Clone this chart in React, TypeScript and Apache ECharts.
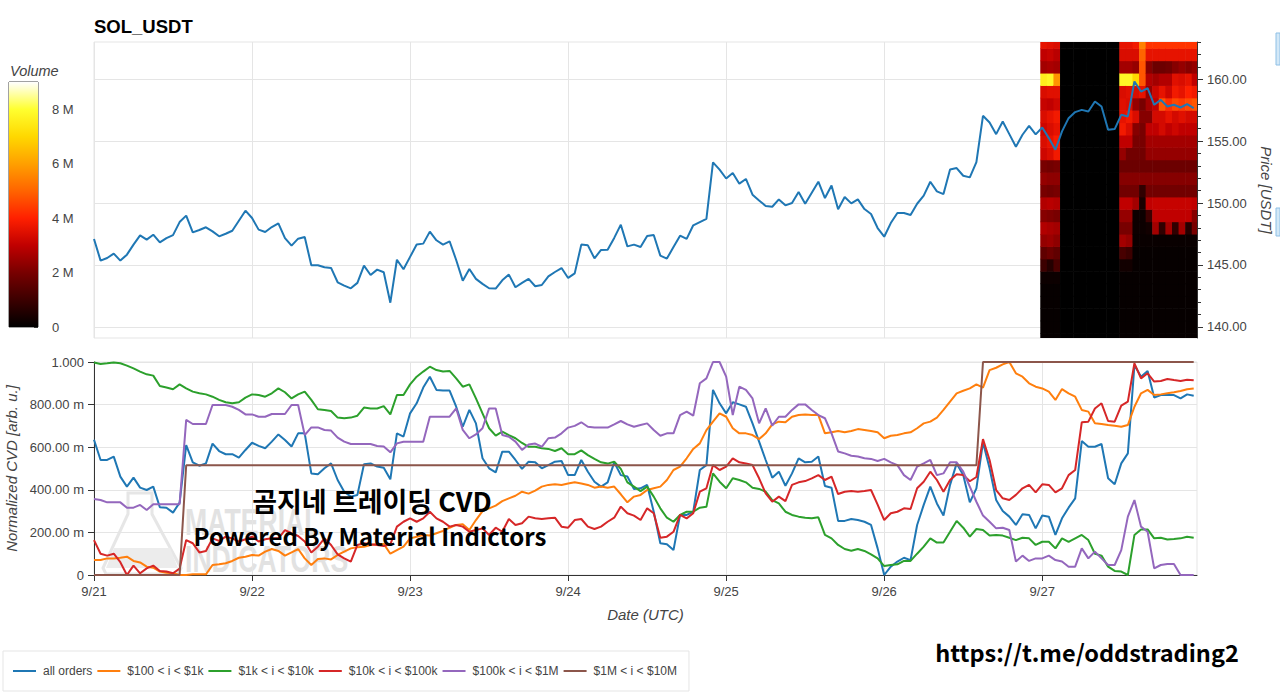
import React, { useEffect, useRef } from 'react';
import * as echarts from 'echarts';

const DAY_LABELS = ['9/21', '9/22', '9/23', '9/24', '9/25', '9/26', '9/27'];
const X_MAX_HOURS = 167.5;

// hourly close price, 9/21 00:00 .. 9/27 23:00 (UTC)
const PRICE = [
  147.09, 145.35, 145.56, 145.91, 145.35, 145.83, 146.64, 147.39, 147.04, 147.44,
  146.82, 147.17, 147.41, 148.46, 148.98, 147.63, 147.82, 148.04, 147.71, 147.31,
  147.52, 147.76, 148.57, 149.38, 148.79, 147.85, 147.66, 148.06, 148.36, 147.17,
  146.56, 147.12, 147.25, 144.97, 144.97, 144.81, 144.76, 143.60, 143.33, 143.11,
  143.55, 144.94, 144.19, 144.62, 144.41, 141.95, 145.42, 144.65, 145.65, 146.65,
  146.72, 147.69, 146.99, 146.64, 146.91, 145.40, 143.73, 144.67, 143.87, 143.47,
  143.12, 143.09, 143.76, 144.22, 143.20, 143.55, 143.87, 143.28, 143.38, 144.08,
  144.43, 144.75, 143.95, 144.32, 146.64, 146.58, 145.53, 146.21, 146.23, 147.18,
  148.25, 146.50, 146.64, 146.45, 147.34, 147.42, 145.75, 145.51, 146.45, 147.36,
  147.10, 148.20, 148.46, 148.72, 153.28, 152.69, 151.98, 152.42, 151.56, 151.94,
  150.67, 150.21, 149.76, 149.70, 150.29, 149.81, 150.00, 150.89, 149.94, 150.83,
  151.72, 150.40, 151.42, 149.49, 150.48, 149.97, 150.29, 149.51, 149.11, 147.98,
  147.28, 148.38, 149.19, 149.19, 149.03, 149.94, 150.59, 151.72, 150.94, 150.72,
  152.71, 152.82, 152.20, 152.07, 153.30, 157.04, 156.50, 155.56, 156.58, 155.56,
  154.54, 155.51, 156.23, 155.54, 156.10, 155.24, 154.30, 155.78, 156.85, 157.34,
  157.52, 157.39, 158.20, 157.79, 155.91, 155.97, 157.12, 156.99, 159.81, 159.00,
  159.27, 157.93, 158.33, 157.79, 157.93, 157.71, 157.98, 157.66,
];

const CVD_ALL = [
  0.635, 0.54, 0.54, 0.556, 0.462, 0.415, 0.457, 0.41, 0.399, 0.415,
  0.318, 0.316, 0.293, 0.34, 0.61, 0.529, 0.513, 0.524, 0.617, 0.582,
  0.567, 0.567, 0.551, 0.587, 0.621, 0.606, 0.595, 0.626, 0.66, 0.634,
  0.603, 0.665, 0.665, 0.477, 0.473, 0.501, 0.524, 0.446, 0.391, 0.368,
  0.376, 0.52, 0.524, 0.509, 0.504, 0.449, 0.665, 0.65, 0.759, 0.806,
  0.88, 0.931, 0.869, 0.866, 0.866, 0.79, 0.696, 0.775, 0.712, 0.548,
  0.501, 0.482, 0.579, 0.579, 0.54, 0.498, 0.532, 0.529, 0.501, 0.516,
  0.532, 0.535, 0.469, 0.469, 0.54, 0.485, 0.438, 0.415, 0.435, 0.529,
  0.469, 0.462, 0.404, 0.407, 0.423, 0.297, 0.149, 0.144, 0.117, 0.282,
  0.282, 0.297, 0.493, 0.516, 0.869, 0.806, 0.759, 0.811, 0.801, 0.79,
  0.712, 0.626, 0.54, 0.457, 0.485, 0.419, 0.477, 0.548, 0.529, 0.532,
  0.556, 0.418, 0.41, 0.254, 0.254, 0.263, 0.258, 0.25, 0.235, 0.125,
  0.0, 0.039, 0.063, 0.081, 0.07, 0.235, 0.329, 0.415, 0.336, 0.279,
  0.423, 0.524, 0.469, 0.341, 0.407, 0.623, 0.501, 0.352, 0.3, 0.274,
  0.235, 0.285, 0.282, 0.219, 0.279, 0.274, 0.188, 0.266, 0.316, 0.36,
  0.629, 0.602, 0.602, 0.615, 0.454, 0.426, 0.524, 0.571, 0.986, 0.931,
  0.958, 0.833, 0.845, 0.845, 0.845, 0.829, 0.848, 0.842,
];

const CVD_100_1K = [
  0.07, 0.07, 0.078, 0.078, 0.081, 0.086, 0.066, 0.059, 0.039, 0.034,
  0.016, 0.011, 0.008, 0.0, 0.0, 0.003, 0.003, 0.003, 0.047, 0.05,
  0.055, 0.066, 0.081, 0.086, 0.094, 0.091, 0.11, 0.122, 0.113, 0.091,
  0.106, 0.122, 0.078, 0.047, 0.075, 0.078, 0.073, 0.094, 0.11, 0.125,
  0.13, 0.133, 0.141, 0.146, 0.146, 0.1, 0.117, 0.133, 0.172, 0.18,
  0.188, 0.185, 0.196, 0.207, 0.222, 0.235, 0.238, 0.211, 0.258, 0.3,
  0.313, 0.326, 0.347, 0.36, 0.372, 0.391, 0.382, 0.396, 0.415, 0.423,
  0.426, 0.423, 0.43, 0.435, 0.43, 0.423, 0.41, 0.415, 0.41, 0.415,
  0.379, 0.341, 0.368, 0.376, 0.399, 0.407, 0.415, 0.446, 0.493, 0.509,
  0.548, 0.592, 0.618, 0.68, 0.72, 0.759, 0.743, 0.689, 0.665, 0.665,
  0.657, 0.638, 0.665, 0.707, 0.72, 0.717, 0.743, 0.751, 0.754, 0.751,
  0.751, 0.665, 0.67, 0.676, 0.67, 0.676, 0.685, 0.681, 0.676, 0.67,
  0.642, 0.654, 0.657, 0.665, 0.67, 0.689, 0.712, 0.72, 0.739, 0.775,
  0.814, 0.853, 0.865, 0.876, 0.895, 0.88, 0.962, 0.973, 0.989, 1.0,
  0.947, 0.931, 0.9, 0.884, 0.876, 0.861, 0.822, 0.873, 0.853, 0.837,
  0.775, 0.767, 0.712, 0.709, 0.704, 0.701, 0.696, 0.704, 0.79, 0.853,
  0.869, 0.845, 0.848, 0.853, 0.858, 0.864, 0.872, 0.876,
];

const CVD_1K_10K = [
  0.998, 0.991, 0.994, 0.998, 0.994, 0.983, 0.97, 0.955, 0.942, 0.936,
  0.887, 0.88, 0.872, 0.895, 0.876, 0.861, 0.853, 0.848, 0.837, 0.822,
  0.811, 0.806, 0.811, 0.833, 0.848, 0.845, 0.837, 0.853, 0.876, 0.858,
  0.829, 0.848, 0.861, 0.822, 0.778, 0.775, 0.77, 0.739, 0.736, 0.739,
  0.748, 0.786, 0.782, 0.782, 0.793, 0.754, 0.845, 0.845, 0.895, 0.931,
  0.955, 0.978, 0.962, 0.955, 0.958, 0.923, 0.884, 0.895, 0.829, 0.759,
  0.689, 0.654, 0.673, 0.657, 0.642, 0.62, 0.602, 0.602, 0.595, 0.592,
  0.582, 0.595, 0.567, 0.567, 0.585, 0.563, 0.545, 0.529, 0.523, 0.532,
  0.498, 0.435, 0.415, 0.394, 0.415, 0.368, 0.313, 0.269, 0.25, 0.282,
  0.297, 0.297, 0.316, 0.32, 0.477, 0.438, 0.407, 0.454, 0.446, 0.435,
  0.41, 0.404, 0.391, 0.352, 0.336, 0.297, 0.282, 0.274, 0.269, 0.266,
  0.271, 0.188, 0.172, 0.141, 0.122, 0.114, 0.122, 0.113, 0.097, 0.078,
  0.042, 0.047, 0.05, 0.066, 0.066, 0.1, 0.133, 0.172, 0.152, 0.153,
  0.203, 0.254, 0.222, 0.18, 0.216, 0.211, 0.185, 0.188, 0.185, 0.175,
  0.164, 0.175, 0.172, 0.141, 0.156, 0.156, 0.125, 0.172, 0.156, 0.172,
  0.188, 0.164, 0.1, 0.091, 0.039, 0.019, 0.016, 0.0, 0.188, 0.214,
  0.214, 0.172, 0.175, 0.167, 0.169, 0.172, 0.18, 0.175,
];

const CVD_10K_100K = [
  0.164, 0.1, 0.091, 0.1, 0.06, 0.0, 0.044, 0.008, 0.031, 0.044,
  0.019, 0.016, 0.008, 0.03, 0.164, 0.149, 0.106, 0.113, 0.172, 0.16,
  0.18, 0.172, 0.157, 0.168, 0.18, 0.157, 0.168, 0.172, 0.172, 0.211,
  0.196, 0.183, 0.157, 0.106, 0.133, 0.172, 0.141, 0.097, 0.078, 0.063,
  0.141, 0.149, 0.144, 0.141, 0.136, 0.144, 0.227, 0.25, 0.266, 0.25,
  0.266, 0.297, 0.266, 0.25, 0.227, 0.235, 0.227, 0.203, 0.211, 0.219,
  0.188, 0.222, 0.203, 0.263, 0.235, 0.243, 0.274, 0.266, 0.263, 0.266,
  0.269, 0.227, 0.222, 0.258, 0.263, 0.227, 0.216, 0.227, 0.25, 0.269,
  0.321, 0.29, 0.279, 0.258, 0.313, 0.29, 0.175, 0.18, 0.203, 0.282,
  0.266, 0.29, 0.391, 0.407, 0.516, 0.493, 0.509, 0.548, 0.529, 0.524,
  0.516, 0.454, 0.383, 0.344, 0.368, 0.347, 0.423, 0.435, 0.441, 0.454,
  0.469, 0.446, 0.462, 0.38, 0.391, 0.394, 0.391, 0.394, 0.399, 0.33,
  0.258, 0.29, 0.297, 0.313, 0.31, 0.407, 0.438, 0.485, 0.446, 0.391,
  0.446, 0.473, 0.469, 0.44, 0.46, 0.638, 0.54, 0.399, 0.36, 0.352,
  0.376, 0.407, 0.423, 0.388, 0.426, 0.423, 0.388, 0.407, 0.469, 0.493,
  0.717, 0.72, 0.782, 0.806, 0.723, 0.72, 0.795, 0.814, 0.994, 0.923,
  0.947, 0.908, 0.911, 0.92, 0.915, 0.911, 0.917, 0.914,
];

const CVD_100K_1M = [
  0.357, 0.352, 0.341, 0.341, 0.341, 0.316, 0.316, 0.329, 0.305, 0.332,
  0.332, 0.332, 0.332, 0.332, 0.728, 0.709, 0.709, 0.709, 0.798, 0.798,
  0.798, 0.79, 0.775, 0.754, 0.754, 0.743, 0.743, 0.756, 0.756, 0.756,
  0.798, 0.798, 0.657, 0.693, 0.693, 0.681, 0.678, 0.645, 0.626, 0.615,
  0.615, 0.615, 0.615, 0.606, 0.603, 0.576, 0.618, 0.626, 0.626, 0.626,
  0.626, 0.743, 0.743, 0.743, 0.743, 0.782, 0.681, 0.642, 0.66, 0.689,
  0.782, 0.782, 0.657, 0.649, 0.626, 0.587, 0.613, 0.617, 0.602, 0.642,
  0.645, 0.665, 0.692, 0.7, 0.717, 0.696, 0.692, 0.692, 0.692, 0.707,
  0.723, 0.707, 0.696, 0.704, 0.712, 0.681, 0.654, 0.665, 0.665, 0.751,
  0.767, 0.748, 0.9, 0.923, 1.0, 1.0, 0.931, 0.751, 0.884, 0.869,
  0.829, 0.712, 0.782, 0.701, 0.743, 0.743, 0.775, 0.801, 0.801, 0.775,
  0.751, 0.736, 0.665, 0.58, 0.571, 0.56, 0.556, 0.548, 0.545, 0.535,
  0.545, 0.529, 0.516, 0.469, 0.446, 0.509, 0.524, 0.54, 0.469, 0.477,
  0.529, 0.529, 0.485, 0.415, 0.344, 0.279, 0.25, 0.219, 0.222, 0.211,
  0.063, 0.091, 0.066, 0.078, 0.078, 0.091, 0.07, 0.063, 0.039, 0.039,
  0.125, 0.078, 0.11, 0.078, 0.047, 0.047, 0.117, 0.274, 0.352, 0.227,
  0.203, 0.031, 0.047, 0.052, 0.052, 0.0, 0.0, 0.0,
];

// step-shaped series: [hour, value] vertices
const CVD_1M_10M = [
  [0, 0], [13, 0], [14, 0.515], [134, 0.515], [135, 1.0], [167, 1.0],
];

const SERIES_NAMES = [
  'all orders', '$100 < i < $1k', '$1k < i < $10k',
  '$10k < i < $100k', '$100k < i < $1M', '$1M < i < $10M',
];
const SERIES_COLORS = ['#1f77b4', '#ff7f0e', '#2ca02c', '#d62728', '#9467bd', '#8c564b'];

// volume heatmap: price bins (USDT) and column start hours (since 9/21 00:00)
const HEAT_PRICES = [139, 140, 141, 142, 143, 144, 145, 146, 147, 148, 149, 150, 151, 152, 153, 154, 155, 156, 157, 158, 159, 160, 161, 162, 163];
const HEAT_TIMES = [143.7, 144.7, 145.7, 146.7, 147.7, 148.7, 149.7, 150.7, 151.7, 152.7, 153.7, 154.7, 155.7, 156.7, 157.7, 158.7, 159.7, 160.7, 161.7, 162.7, 163.7, 164.7, 165.7, 166.7];
// volume in millions, one row per column, listed from 139 to 163
const HEAT_VOL = [
  [0.1, 0.1, 0.1, 0.1, 0.1, 0.2, 1.0, 1.6, 2.4, 2.8, 2.2, 2.8, 2.0, 2.4, 2.0, 3.2, 3.4, 3.2, 3.4, 3.1, 3.4, 7.6, 2.6, 3.0, 3.6],
  [0.1, 0.1, 0.1, 0.1, 0.1, 0.2, 0.6, 1.8, 2.5, 2.7, 2.1, 2.9, 1.9, 2.3, 1.9, 3.4, 3.6, 3.4, 3.6, 3.0, 3.5, 7.8, 2.7, 3.1, 3.5],
  [0.1, 0.1, 0.1, 0.1, 0.1, 0.2, 1.2, 1.6, 2.3, 2.6, 2.0, 2.8, 2.0, 2.3, 2.0, 3.8, 3.9, 3.6, 3.8, 3.2, 3.5, 5.8, 2.6, 2.9, 3.4],
  [0, 0, 0, 0, 0, 0, 0, 0, 0, 0, 0, 0, 0, 0, 0, 0, 0, 0, 0, 0, 0, 0, 0, 0, 0],
  [0, 0, 0, 0, 0, 0, 0, 0, 0, 0, 0, 0, 0, 0, 0, 0, 0, 0, 0, 0, 0, 0, 0, 0, 0],
  [0, 0, 0, 0, 0, 0, 0, 0, 0, 0, 0, 0, 0, 0, 0, 0, 0, 0, 0, 0, 0, 0, 0, 0, 0],
  [0, 0, 0, 0, 0, 0, 0, 0, 0, 0, 0, 0, 0, 0, 0, 0, 0, 0, 0, 0, 0, 0, 0, 0, 0],
  [0, 0, 0, 0, 0, 0, 0, 0, 0, 0, 0, 0, 0, 0, 0, 0, 0, 0, 0, 0, 0, 0, 0, 0, 0],
  [0, 0, 0, 0, 0, 0, 0, 0, 0, 0, 0, 0, 0, 0, 0, 0, 0, 0, 0, 0, 0, 0, 0, 0, 0],
  [0, 0, 0, 0, 0, 0, 0, 0, 0, 0, 0, 0, 0, 0, 0, 0, 0, 0, 0, 0, 0, 0, 0, 0, 0],
  [0, 0, 0, 0, 0, 0, 0, 0, 0, 0, 0, 0, 0, 0, 0, 0, 0, 0, 0, 0, 0, 0, 0, 0, 0],
  [0, 0, 0, 0, 0, 0, 0, 0, 0, 0, 0, 0, 0, 0, 0, 0, 0, 0, 0, 0, 0, 0, 0, 0, 0],
  [0.1, 0.1, 0.1, 0.1, 0.1, 0.1, 0.3, 1.2, 2.6, 2.0, 2.4, 3.0, 1.9, 2.2, 1.8, 2.4, 3.0, 3.8, 3.6, 3.5, 3.4, 7.8, 2.6, 3.4, 3.6],
  [0.1, 0.1, 0.1, 0.1, 0.1, 0.1, 0.3, 1.0, 2.4, 2.0, 2.4, 3.0, 1.9, 2.2, 1.8, 1.9, 3.0, 3.4, 3.8, 3.4, 3.5, 7.8, 2.6, 3.4, 3.6],
  [0.1, 0.1, 0.1, 0.1, 0.1, 0.1, 0.1, 0.1, 0.15, 0.2, 0.2, 2.6, 1.9, 2.2, 1.8, 1.9, 2.0, 2.2, 3.4, 2.4, 3.4, 7.0, 2.4, 3.4, 3.8],
  [0.1, 0.1, 0.1, 0.1, 0.1, 0.1, 0.1, 0.1, 0.15, 0.2, 0.2, 0.4, 0.8, 2.2, 1.8, 1.9, 2.0, 2.0, 2.2, 2.0, 3.6, 4.8, 4.8, 5.0, 5.5],
  [0.1, 0.1, 0.1, 0.1, 0.1, 0.1, 0.1, 0.1, 0.15, 0.3, 1.0, 3.0, 1.9, 2.2, 1.8, 2.4, 2.6, 3.0, 2.2, 2.6, 2.4, 2.8, 2.2, 3.6, 4.3],
  [0.1, 0.1, 0.1, 0.1, 0.1, 0.1, 0.1, 0.1, 0.15, 2.6, 3.0, 3.1, 1.9, 2.2, 1.8, 2.4, 2.6, 3.0, 3.3, 3.0, 3.2, 2.6, 1.8, 3.6, 4.3],
  [0.1, 0.1, 0.1, 0.1, 0.1, 0.1, 0.1, 0.1, 0.15, 0.8, 3.0, 3.1, 1.9, 2.2, 1.8, 2.4, 2.6, 3.3, 3.3, 4.8, 3.6, 2.8, 1.8, 3.6, 4.3],
  [0.1, 0.1, 0.1, 0.1, 0.1, 0.1, 0.1, 0.1, 0.15, 2.6, 3.0, 3.1, 1.9, 2.2, 1.8, 2.4, 2.6, 3.0, 3.6, 4.2, 3.2, 2.8, 1.9, 3.6, 4.3],
  [0.1, 0.1, 0.1, 0.1, 0.1, 0.1, 0.1, 0.1, 0.15, 0.8, 3.0, 3.1, 1.9, 2.2, 1.8, 2.4, 2.6, 3.2, 3.3, 4.6, 3.8, 3.5, 2.2, 3.6, 4.3],
  [0.1, 0.1, 0.1, 0.1, 0.1, 0.1, 0.1, 0.1, 0.15, 2.6, 3.0, 3.1, 1.9, 2.2, 1.8, 2.4, 2.6, 3.0, 3.5, 4.4, 3.6, 3.4, 2.4, 3.6, 4.3],
  [0.1, 0.1, 0.1, 0.1, 0.1, 0.1, 0.1, 0.1, 0.15, 0.6, 3.0, 3.1, 1.9, 2.2, 1.8, 2.4, 2.6, 3.0, 3.3, 4.6, 4.0, 3.6, 2.2, 3.6, 4.3],
  [0.1, 0.1, 0.1, 0.1, 0.1, 0.1, 0.1, 0.1, 0.15, 2.0, 2.2, 3.0, 1.9, 2.2, 1.8, 2.4, 2.6, 3.0, 3.3, 4.8, 3.8, 3.0, 2.4, 3.6, 4.3],
];
const VOL_MAX = 9;
const HEAT_COLORS = ['#000000', '#3c0000', '#780000', '#c00000', '#ff2000', '#ff6400', '#ffa000', '#ffd800', '#ffff30', '#ffffff'];

const PRICE_MIN = 139.1;
const PRICE_MAX = 163.0;
const PRICE_MAJOR = [140, 145, 150, 155, 160];
const PRICE_MINOR = [140, 141, 142, 143, 144, 145, 146, 147, 148, 149, 150, 151, 152, 153, 154, 155, 156, 157, 158, 159, 160, 161, 162, 163];

const FONT = "'Liberation Sans', Arial, Helvetica, sans-serif";
const KFONT = "'Noto Sans CJK KR', 'Noto Sans', sans-serif";
const GRID_C = '#e5e5e5';
const AXIS_C = '#333333';
const LABEL_C = '#444444';

export default function App() {
  const ref = useRef<HTMLDivElement>(null);

  useEffect(() => {
    const chart = echarts.init(ref.current as HTMLDivElement, null, { renderer: 'svg' });

    const dayTicks = DAY_LABELS.map((_, i) => i * 24);
    const heatData: number[][] = [];
    HEAT_TIMES.forEach((t, i) => {
      HEAT_PRICES.forEach((p, j) => heatData.push([t, p, HEAT_VOL[i][j]]));
    });

    const cvd = [CVD_ALL, CVD_100_1K, CVD_1K_10K, CVD_10K_100K, CVD_100K_1M];
    const cvdSeries: any[] = cvd.map((arr, k) => ({
      name: SERIES_NAMES[k],
      type: 'line',
      xAxisIndex: 1,
      yAxisIndex: 2,
      data: arr.map((v, i) => [i, v]),
      symbol: 'none',
      clip: false,
      lineStyle: { width: 2, color: SERIES_COLORS[k] },
      itemStyle: { color: SERIES_COLORS[k] },
    }));
    cvdSeries.push({
      name: SERIES_NAMES[5],
      type: 'line',
      xAxisIndex: 1,
      yAxisIndex: 2,
      data: CVD_1M_10M,
      symbol: 'none',
      clip: false,
      lineStyle: { width: 2, color: SERIES_COLORS[5] },
      itemStyle: { color: SERIES_COLORS[5] },
    });

    const gradStops = HEAT_COLORS.map((c, i) => ({ offset: i / (HEAT_COLORS.length - 1), color: c }));

    const option: any = {
      animation: false,
      backgroundColor: '#ffffff',
      textStyle: { fontFamily: FONT },
      grid: [
        { left: 94, top: 42, width: 1103, height: 296, show: true, borderColor: GRID_C, borderWidth: 1, containLabel: false, outerBoundsMode: 'none' },
        { left: 94, top: 362, width: 1103, height: 213, show: true, borderColor: GRID_C, borderWidth: 1, containLabel: false, outerBoundsMode: 'none' },
        { left: 9, top: 82, width: 29, height: 245, show: true, borderColor: '#444', borderWidth: 1, containLabel: false, outerBoundsMode: 'none' },
      ],
      xAxis: [
        {
          type: 'value', gridIndex: 0, min: 0, max: X_MAX_HOURS, interval: 24,
          axisLine: { show: false, onZero: false }, axisTick: { show: false }, axisLabel: { show: false },
          splitLine: { show: true, lineStyle: { color: GRID_C, width: 1 } },
        },
        {
          type: 'value', gridIndex: 1, min: 0, max: X_MAX_HOURS, interval: 24,
          axisLine: { show: true, onZero: false, lineStyle: { color: AXIS_C, width: 1 } },
          axisTick: { show: true, length: 6, customValues: dayTicks, lineStyle: { color: AXIS_C } },
          axisLabel: {
            show: true, customValues: dayTicks, margin: 10, color: LABEL_C, fontSize: 13,
            formatter: (v: number) => DAY_LABELS[Math.round(v / 24)] || '',
          },
          splitLine: { show: true, lineStyle: { color: GRID_C, width: 1 } },
          name: 'Date (UTC)', nameLocation: 'middle', nameGap: 32,
          nameTextStyle: { fontStyle: 'italic', fontSize: 15, color: LABEL_C },
        },
        {
          type: 'category', gridIndex: 2, data: ['Volume'], show: false,
        },
      ],
      yAxis: [
        {
          type: 'value', gridIndex: 0, position: 'right', min: PRICE_MIN, max: PRICE_MAX,
          axisLine: { show: true, onZero: false, lineStyle: { color: AXIS_C, width: 1 } },
          axisTick: { show: true, length: 6, customValues: PRICE_MAJOR, lineStyle: { color: AXIS_C } },
          axisLabel: {
            show: true, customValues: PRICE_MAJOR, margin: 10, color: LABEL_C, fontSize: 13,
            formatter: (v: number) => v.toFixed(2),
          },
          splitLine: { show: true, lineStyle: { color: GRID_C, width: 1 } },
          name: 'Price [USDT]', nameLocation: 'middle', nameRotate: -90, nameGap: 62,
          nameTextStyle: { fontStyle: 'italic', fontSize: 15, color: LABEL_C },
        },
        {
          type: 'value', gridIndex: 0, position: 'right', min: PRICE_MIN, max: PRICE_MAX,
          axisLine: { show: false, onZero: false },
          axisTick: { show: true, length: 4, customValues: PRICE_MINOR, lineStyle: { color: AXIS_C } },
          axisLabel: { show: false },
          splitLine: { show: false },
        },
        {
          type: 'value', gridIndex: 1, position: 'left', min: 0, max: 1, interval: 0.2,
          axisLine: { show: true, onZero: false, lineStyle: { color: AXIS_C, width: 1 } },
          axisTick: { show: true, length: 6, lineStyle: { color: AXIS_C } },
          axisLabel: {
            show: true, margin: 10, color: LABEL_C, fontSize: 13,
            formatter: (v: number) => {
              if (v === 0) return '0';
              if (Math.abs(v - 1) < 1e-9) return '1.000';
              return (Math.round(v * 1000)).toFixed(2) + ' m';
            },
          },
          splitLine: { show: true, lineStyle: { color: GRID_C, width: 1 } },
          name: 'Normalized CVD [arb. u.]', nameLocation: 'middle', nameGap: 72,
          nameTextStyle: { fontStyle: 'italic', fontSize: 15, color: LABEL_C },
        },
        {
          type: 'value', gridIndex: 2, position: 'right', min: 0, max: VOL_MAX, interval: 2,
          axisLine: { show: false, onZero: false },
          axisTick: { show: true, inside: true, length: 4, lineStyle: { color: AXIS_C } },
          axisLabel: {
            show: true, margin: 14, color: LABEL_C, fontSize: 13, showMaxLabel: false,
            formatter: (v: number) => (v === 0 ? '0' : v + ' M'),
          },
          splitLine: { show: false },
        },
      ],
      visualMap: {
        type: 'continuous', show: false, seriesIndex: 0, dimension: 2,
        min: 0, max: VOL_MAX, inRange: { color: HEAT_COLORS },
      },
      legend: {
        left: 3, top: 651, orient: 'horizontal',
        data: SERIES_NAMES, icon: 'rect', itemWidth: 23, itemHeight: 2, itemGap: 5,
        padding: [14, 12, 14, 10], borderColor: GRID_C, borderWidth: 1,
        textStyle: { fontSize: 12, color: LABEL_C, padding: [0, 0, 0, 2] },
        selectedMode: false,
      },
      series: [
        {
          name: 'volume', type: 'custom', xAxisIndex: 0, yAxisIndex: 0,
          data: heatData, clip: true, silent: true,
          encode: { x: 0, y: 1 },
          renderItem: (params: any, api: any) => {
            const t = api.value(0);
            const p = api.value(1);
            const a = api.coord([t, p + 0.5]);
            const b = api.coord([t + 1, p - 0.5]);
            return {
              type: 'rect',
              shape: { x: a[0], y: a[1], width: b[0] - a[0] + 0.6, height: b[1] - a[1] + 0.6 },
              style: { fill: api.visual('color') },
            };
          },
        },
        {
          name: 'price', type: 'line', xAxisIndex: 0, yAxisIndex: 0,
          data: PRICE.map((v, i) => [i, v]), symbol: 'none',
          lineStyle: { width: 2, color: '#1f77b4' }, itemStyle: { color: '#1f77b4' },
        },
        ...cvdSeries,
        {
          name: 'volume scale', type: 'bar', xAxisIndex: 2, yAxisIndex: 3,
          data: [VOL_MAX], barWidth: '100%', silent: true,
          itemStyle: { color: new echarts.graphic.LinearGradient(0, 1, 0, 0, gradStops) },
        },
      ],
      graphic: [
        {
          type: 'text', x: 94, y: 26, z: 100,
          style: { text: 'SOL_USDT', fill: '#000', font: `bold 18.5px ${FONT}`, textVerticalAlign: 'middle', verticalAlign: 'middle' },
        },
        {
          type: 'text', x: 10, y: 71, z: 100,
          style: { text: 'Volume', fill: LABEL_C, font: `italic 14.5px ${FONT}`, textVerticalAlign: 'middle', verticalAlign: 'middle' },
        },
        // watermark
        {
          type: 'polygon', z: 0, silent: true,
          shape: { points: [[128, 493], [128, 514], [103, 568], [106, 574], [178, 574], [181, 568], [152, 514], [152, 493]] },
          style: { fill: 'none', stroke: '#e6e6e6', lineWidth: 3 },
        },
        {
          type: 'polygon', z: 0, silent: true,
          shape: { points: [[114, 548], [170, 548], [178, 568], [106, 568]] },
          style: { fill: '#ececec' },
        },
        {
          type: 'text', x: 185, y: 522, z: 0, scaleX: 0.72, silent: true,
          style: { text: 'MATERIAL', fill: '#e2e2e2', font: `bold 37px ${FONT}`, textVerticalAlign: 'middle', verticalAlign: 'middle' },
        },
        {
          type: 'text', x: 185, y: 559, z: 0, scaleX: 0.72, silent: true,
          style: { text: 'INDICATORS', fill: '#e2e2e2', font: `bold 37px ${FONT}`, textVerticalAlign: 'middle', verticalAlign: 'middle' },
        },
        // overlays
        {
          type: 'text', x: 372, y: 500, z: 100,
          style: { text: '곰지네 트레이딩 CVD', fill: '#000', font: `bold 27px ${KFONT}`, textAlign: 'center', align: 'center', textVerticalAlign: 'middle', verticalAlign: 'middle' },
        },
        {
          type: 'text', x: 370, y: 535, z: 100,
          style: { text: 'Powered By Material Indictors', fill: '#000', font: `bold 24px ${KFONT}`, textAlign: 'center', align: 'center', textVerticalAlign: 'middle', verticalAlign: 'middle' },
        },
        {
          type: 'text', x: 1087, y: 652, z: 100,
          style: { text: 'https://t.me/oddstrading2', fill: '#000', font: `bold 23.5px ${KFONT}`, textAlign: 'center', align: 'center', textVerticalAlign: 'middle', verticalAlign: 'middle' },
        },
        // cut-off toolbar bits at right edge
        { type: 'rect', z: 100, shape: { x: 1276, y: 33, width: 4, height: 32 }, style: { fill: '#d3e8f7', stroke: '#8fc0e6', lineWidth: 1 } },
        { type: 'rect', z: 100, shape: { x: 1276, y: 208, width: 4, height: 28 }, style: { fill: '#d3e8f7', stroke: '#8fc0e6', lineWidth: 1 } },
      ],
    };

    chart.setOption(option);
    return () => chart.dispose();
  }, []);

  return (
    <div
      ref={ref}
      style={{ position: 'absolute', left: 0, top: 0, width: 1280, height: 695, background: '#fff' }}
    />
  );
}
